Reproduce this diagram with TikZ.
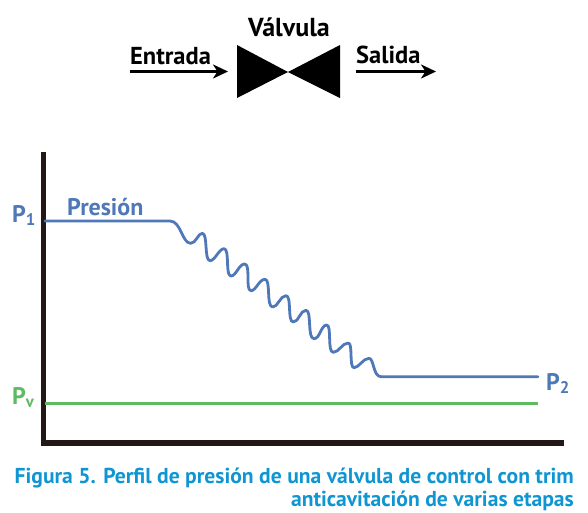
\documentclass[tikz,border=0pt]{standalone}
\usepackage{fontspec}
\setmainfont{PT Sans}
\usetikzlibrary{arrows.meta}
\definecolor{axisc}{HTML}{231815}
\definecolor{bluec}{HTML}{4F78B8}
\definecolor{greenc}{HTML}{5CBB63}
\definecolor{capc}{HTML}{0F96D2}
\tikzset{
 lab/.style={inner sep=0pt,anchor=base west,font=\bfseries\fontsize{24.5}{24.5}\selectfont,text=black},
 plab/.style={inner sep=0pt,anchor=base west,font=\bfseries\fontsize{24}{24}\selectfont},
 captext/.style={inner sep=0pt,anchor=base east,text=capc,font=\bfseries\fontsize{21.6}{21.6}\selectfont},
 flow/.style={draw=black,line width=2.6pt,-{Stealth[length=15pt,width=14pt,inset=4.5pt]}},
 valvepart/.style={fill=black,draw=none},
 axisline/.style={draw=axisc,line width=5.2pt,line cap=butt,line join=miter},
 press/.style={draw=bluec,line width=2.8pt,line join=round,line cap=round},
 vapor/.style={draw=greenc,line width=2.8pt},
}
\begin{document}
\begin{tikzpicture}[x=1pt,y=-1pt]
\useasboundingbox (0,0) rectangle (588,512);
% valve
\node[lab,anchor=base,font=\bfseries\fontsize{26}{26}\selectfont] (valvelab) at (289,36) {Válvula};
\fill[valvepart] (237,45) -- (237,98) -- (288,72) -- cycle;
\fill[valvepart] (340,45) -- (340,98) -- (288,72) -- cycle;
\coordinate (vl) at (228,71.5);
\coordinate (inS) at (130,71.5);
\coordinate (outS) at (356,71.5);
\coordinate (outE) at (436,71.5);
\node[lab] (entrada) at (130,64) {Entrada};
\node[lab] (salida) at (356,63.5) {Salida};
\draw[flow] (inS) -- (vl);
\draw[flow] (outS) -- (outE);
% axes
\coordinate (axT) at (43.8,152);
\coordinate (axO) at (43.8,443);
\coordinate (axR) at (564,443);
\draw[axisline] (axT) -- (axO) -- (axR);
% vapor pressure
\coordinate (gA) at (45,403.5);
\coordinate (gB) at (538,403.5);
\draw[vapor] (gA) -- (gB);
% pressure profile
\coordinate (pA) at (45,221);
\coordinate (pB) at (538,376.7);
\draw[press] (pA) -- (170,221)
  .. controls (181,221) and (182,243.3) .. (190.7,243.3)
  .. controls (196,243.3) and (198,233.3) .. (202.3,233.3)
  .. controls (208,233.3) and (204,260.7) .. (210,260.7)
  .. controls (215,260.7) and (219,248.7) .. (224,248.7)
  .. controls (230,248.7) and (225,276) .. (231,276)
  .. controls (236,276) and (239,264) .. (244.7,264)
  .. controls (251,264) and (245,290.7) .. (251,290.7)
  .. controls (256,290.7) and (259,279.3) .. (265,279.3)
  .. controls (271,279.3) and (266,307) .. (272.7,307)
  .. controls (278,307) and (280,295.7) .. (286,295.7)
  .. controls (292,295.7) and (287,322) .. (293.3,322)
  .. controls (299,322) and (300,310.3) .. (306,310.3)
  .. controls (312,310.3) and (307,338.7) .. (314,338.7)
  .. controls (320,338.7) and (321,325) .. (326.7,325)
  .. controls (332,325) and (327,352.3) .. (333.3,352.3)
  .. controls (339,352.3) and (342,343) .. (348.3,343)
  .. controls (353,343) and (349,367.7) .. (354,367.7)
  .. controls (359,367.7) and (363,358.3) .. (369,358.3)
  .. controls (374,358.3) and (373,376.7) .. (381,376.7)
  -- (pB);
% labels
\node[plab,text=bluec] (p1) at (12,222) {P\textsubscript{1}};
\node[plab,text=bluec] (pres) at (67,215) {Presión};
\node[plab,text=bluec] (p2) at (546,390) {P\textsubscript{2}};
\node[plab,text=greenc] (pv) at (12,404) {P\textsubscript{v}};
% caption
\node[captext] (c1) at (574,483) {Figura 5. Perfil de presión de una válvula de control con trim};
\node[captext] (c2) at (574,506) {anticavitación de varias etapas};
\end{tikzpicture}
\end{document}
